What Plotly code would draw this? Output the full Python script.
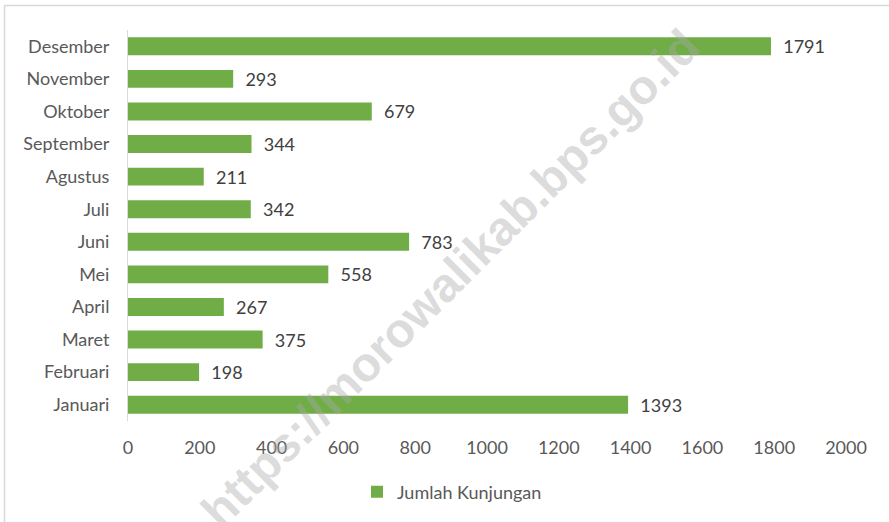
import plotly.graph_objects as go

months = ["Januari", "Februari", "Maret", "April", "Mei", "Juni", "Juli",
          "Agustus", "September", "Oktober", "November", "Desember"]
visits = [1393, 198, 375, 267, 558, 783, 342, 211, 344, 679, 293, 1791]
x_ticks = [0, 200, 400, 600, 800, 1000, 1200, 1400, 1600, 1800, 2000]
series_name = "Jumlah Kunjungan"
watermark = "https://morowalikab.bps.go.id"

W, H = 889, 522
ml, mr, mt, mb = 128, 43, 30, 101
pw, ph = W - ml - mr, H - mt - mb

def px_x(p):
    return (p - ml) / pw

def px_y(p):
    return (H - mb - p) / ph

fig = go.Figure()
fig.add_trace(go.Bar(
    y=months, x=visits, orientation="h", name=series_name,
    marker=dict(color="#70AD47", line=dict(width=0)),
    text=visits, texttemplate="  %{x}", textposition="outside",
    constraintext="none",
    textfont=dict(family="Lato", size=18, color="#404040"),
    cliponaxis=False,
))

fig.update_layout(
    width=W, height=H,
    margin=dict(l=ml, r=mr, t=mt, b=mb, autoexpand=False),
    paper_bgcolor="white", plot_bgcolor="white",
    bargap=0.45,
    font=dict(family="Lato", size=18, color="#595959"),
    xaxis=dict(range=[0, 2000], tickvals=x_ticks, showgrid=False,
               zeroline=False, showline=False, ticks="",
               automargin=False, ticklabelstandoff=14,
               tickfont=dict(size=18, color="#595959")),
    yaxis=dict(categoryorder="array", categoryarray=months,
               showgrid=False, zeroline=False, showline=True,
               linecolor="#d9d9d9", linewidth=1, ticks="",
               automargin=False, ticklabelstandoff=14,
               tickfont=dict(size=18, color="#595959")),
    showlegend=True,
    legend=dict(orientation="h", x=px_x(452), xanchor="center",
                y=px_y(492), yanchor="middle",
                font=dict(size=18, color="#595959")),
    shapes=[dict(type="rect", xref="paper", yref="paper",
                 x0=px_x(4.5), x1=px_x(895), y0=px_y(530), y1=px_y(5.5),
                 line=dict(color="#d9d9d9", width=1.5), layer="below")],
    annotations=[dict(text=watermark, xref="paper", yref="paper",
                      x=px_x(450), y=px_y(278), showarrow=False,
                      textangle=-45,
                      font=dict(family="Liberation Sans", size=48,
                                weight="bold",
                                color="rgba(170,170,170,0.42)"))],
)

fig.write_html("out.html",
               config={"displayModeBar": False},
               post_script="document.body.style.margin='0';"
                           "document.body.style.overflow='hidden';")
